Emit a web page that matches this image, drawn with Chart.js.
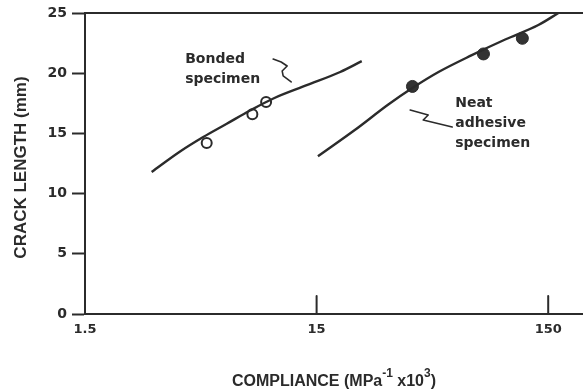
<!DOCTYPE html>
<html>
<head>
<meta charset="utf-8">
<script src="https://cdn.jsdelivr.net/npm/chart.js@4/dist/chart.umd.min.js"></script>
<style>
  html, body { margin: 0; padding: 0; background: #fff; }
  #wrap { width: 583px; height: 390px; }
</style>
</head>
<body>
<div id="wrap"><canvas id="c" width="583" height="390"></canvas></div>
<script>
// Compliance (MPa^-1 x10^3) versus crack length (mm)
const xTickValues = [1.5, 15, 150];
const xTickLabels = ['1.5', '15', '150'];
const yTickValues = [0, 5, 10, 15, 20, 25];

// Bonded specimen: calibration curve and measured points
const bondedCurveX = [2.91, 3.86, 4.86, 6.14, 7.74, 9.76, 13.6, 18.96, 23.5];
const bondedCurveY = [11.8, 13.5, 14.7, 15.8, 16.9, 17.9, 19.0, 20.1, 21.0];
const bondedTestX = [5.03, 7.92, 9.08];
const bondedTestY = [14.2, 16.6, 17.6];

// Neat adhesive specimen: calibration curve and measured points
const neatCurveX = [15.2, 22.0, 30.6, 38.7, 50.4, 70.2, 97.8, 136, 166];
const neatCurveY = [13.1, 15.3, 17.4, 18.75, 20.1, 21.5, 22.8, 24.0, 25.0];
const neatTestX = [38.9, 78.8, 116];
const neatTestY = [18.9, 21.6, 22.9];

const seriesNotes = [
  { lines: ['Bonded', 'specimen'], x: 4.06, y: 20.85,
    leader: [[88, -4], [96, -1], [102, 3], [97, 8], [98, 13], [106, 19]] },
  { lines: ['Neat', 'adhesive', 'specimen'], x: 59.5, y: 17.19,
    leader: [[-45, 3], [-27, 8], [-32, 13], [-3, 20]] }
];

const ink = '#2b2b2b';
const toPoints = (xs, ys) => xs.map((v, i) => ({ x: v, y: ys[i] }));

const framePlugin = {
  id: 'frameAndNotes',
  afterDraw(chart) {
    const { ctx, chartArea, scales } = chart;
    const { left, right, top, bottom } = chartArea;
    const xs = scales.x, ys = scales.y;
    ctx.save();
    ctx.strokeStyle = ink;
    ctx.fillStyle = ink;
    ctx.lineCap = 'round';

    // upper frame line
    ctx.lineWidth = 2;
    ctx.beginPath();
    ctx.moveTo(left, top);
    ctx.lineTo(right, top);
    ctx.stroke();

    // inward tick marks on the compliance axis
    xTickValues.forEach(v => {
      const px = xs.getPixelForValue(v);
      if (px - left > 3) {
        ctx.beginPath();
        ctx.moveTo(px, bottom);
        ctx.lineTo(px, bottom - 18);
        ctx.stroke();
      }
    });

    // series labels with squiggle leaders
    ctx.font = 'bold 14px "DejaVu Sans"';
    ctx.textAlign = 'left';
    ctx.textBaseline = 'alphabetic';
    seriesNotes.forEach(n => {
      const ax = xs.getPixelForValue(n.x);
      const ay = ys.getPixelForValue(n.y);
      n.lines.forEach((t, i) => ctx.fillText(t, ax, ay + i * 20));
      ctx.lineWidth = 1.6;
      ctx.lineJoin = 'round';
      ctx.beginPath();
      n.leader.forEach(([dx, dy], i) => {
        if (i === 0) ctx.moveTo(ax + dx, ay + dy);
        else ctx.lineTo(ax + dx, ay + dy);
      });
      ctx.stroke();
    });

    // vertical axis title
    ctx.font = 'bold 17px "Liberation Sans"';
    ctx.textAlign = 'center';
    ctx.textBaseline = 'middle';
    ctx.save();
    ctx.translate(21, (top + bottom) / 2 + 4);
    ctx.rotate(-Math.PI / 2);
    ctx.fillText('CRACK LENGTH (mm)', 0, 0);
    ctx.restore();

    // horizontal axis title with superscripts
    const parts = [
      { t: 'COMPLIANCE (MPa', sup: false },
      { t: '-1', sup: true },
      { t: ' x10', sup: false },
      { t: '3', sup: true },
      { t: ')', sup: false }
    ];
    const mainFont = 'bold 16px "Liberation Sans"';
    const supFont = 'bold 12px "Liberation Sans"';
    let total = 0;
    parts.forEach(p => {
      ctx.font = p.sup ? supFont : mainFont;
      p.w = ctx.measureText(p.t).width;
      total += p.w;
    });
    let cx = (left + right) / 2 - total / 2;
    const base = 386;
    ctx.textAlign = 'left';
    ctx.textBaseline = 'alphabetic';
    parts.forEach(p => {
      ctx.font = p.sup ? supFont : mainFont;
      ctx.fillText(p.t, cx, p.sup ? base - 9 : base);
      cx += p.w;
    });
    ctx.restore();
  }
};

new Chart(document.getElementById('c'), {
  type: 'scatter',
  data: {
    datasets: [
      { label: 'Bonded specimen curve', data: toPoints(bondedCurveX, bondedCurveY),
        showLine: true, pointRadius: 0, borderColor: ink, borderWidth: 2.4,
        cubicInterpolationMode: 'monotone', clip: false },
      { label: 'Bonded specimen', data: toPoints(bondedTestX, bondedTestY),
        showLine: false, pointRadius: 5, pointBorderWidth: 2, pointBorderColor: ink,
        pointBackgroundColor: '#fff' },
      { label: 'Neat adhesive specimen curve', data: toPoints(neatCurveX, neatCurveY),
        showLine: true, pointRadius: 0, borderColor: ink, borderWidth: 2.4,
        cubicInterpolationMode: 'monotone', clip: false },
      { label: 'Neat adhesive specimen', data: toPoints(neatTestX, neatTestY),
        showLine: false, pointRadius: 6, pointBorderWidth: 1, pointBorderColor: ink,
        pointBackgroundColor: '#333' }
    ]
  },
  options: {
    responsive: false,
    devicePixelRatio: 1,
    animation: false,
    events: [],
    layout: { autoPadding: false, padding: { top: 13, right: 0, left: 0, bottom: 0 } },
    plugins: { legend: { display: false }, tooltip: { enabled: false } },
    scales: {
      x: {
        type: 'logarithmic',
        min: 1.5,
        max: 212,
        afterBuildTicks: s => { s.ticks = xTickValues.map(v => ({ value: v })); },
        afterFit: s => { s.height = 76; s.paddingLeft = 0; s.paddingRight = 0; },
        ticks: {
          autoSkip: false, maxRotation: 0, padding: 8, color: '#2b2b2b',
          font: { family: 'DejaVu Sans', size: 13, weight: 'bold' },
          callback: (v) => xTickLabels[xTickValues.indexOf(v)]
        },
        grid: { display: true, drawOnChartArea: false, drawTicks: false },
        border: { display: true, color: ink, width: 2 }
      },
      y: {
        min: 0,
        max: 25,
        afterBuildTicks: s => { s.ticks = yTickValues.map(v => ({ value: v })); },
        afterFit: s => { s.width = 85; s.paddingTop = 0; s.paddingBottom = 0; },
        ticks: {
          padding: 5, color: '#2b2b2b',
          font: { family: 'DejaVu Sans', size: 14, weight: 'bold' }
        },
        grid: { display: true, drawOnChartArea: false, drawTicks: true, tickLength: 13,
                tickWidth: 2, tickColor: ink },
        border: { display: true, color: ink, width: 2 }
      }
    }
  },
  plugins: [framePlugin]
});
</script>
</body>
</html>
